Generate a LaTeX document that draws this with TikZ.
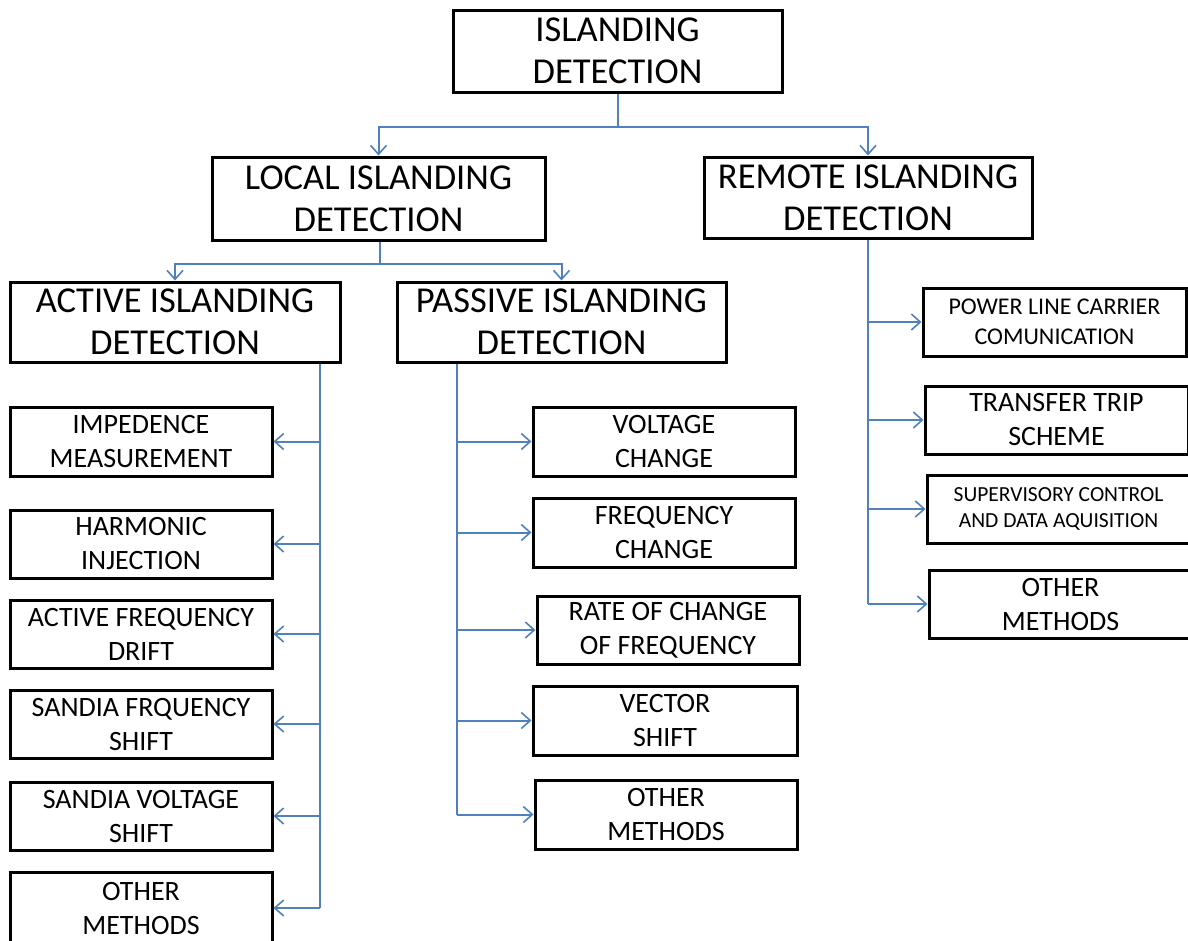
\documentclass[tikz,border=0pt]{standalone}
\usepackage{fontspec}
\setmainfont{Carlito}
\usetikzlibrary{arrows.meta}
\definecolor{linkblue}{RGB}{79,129,189}
\tikzset{
  box/.style={draw=black, line width=3pt, fill=white, align=center, inner sep=0pt},
  bigtxt/.style={font=\fontsize{36.5}{42}\selectfont},
  midtxt/.style={font=\fontsize{28}{34}\selectfont},
  smalltxt/.style={font=\fontsize{24}{30}\selectfont},
  tinytxt/.style={font=\fontsize{21.5}{26}\selectfont},
  link/.style={draw=linkblue, line width=2pt},
  arr/.style={link, -{Straight Barb[length=9pt, width=16pt, line width=1.6pt]}},
}
\begin{document}
\begin{tikzpicture}[x=1pt, y=-1pt]
\useasboundingbox (0,0) rectangle (1188,940);
\clip (0,0) rectangle (1188,940);

% level 0 and 1
\node[box, bigtxt, minimum width=329pt, minimum height=82pt] (top) at (617.5,51) {ISLANDING\\DETECTION};
\node[box, bigtxt, minimum width=333pt, minimum height=83pt] (local) at (378.5,198.5) {LOCAL ISLANDING\\DETECTION};
\node[box, bigtxt, minimum width=328pt, minimum height=81pt] (remote) at (868,197.5) {REMOTE ISLANDING\\DETECTION};
\node[box, bigtxt, minimum width=330pt, minimum height=80pt] (active) at (175,322) {ACTIVE ISLANDING\\DETECTION};
\node[box, bigtxt, minimum width=329pt, minimum height=80pt] (passive) at (561.5,322) {PASSIVE ISLANDING\\DETECTION};

% active methods
\node[box, midtxt, minimum width=262pt, minimum height=69pt] (a1) at (141,441.5) {IMPEDENCE\\MEASUREMENT};
\node[box, midtxt, minimum width=262pt, minimum height=68pt] (a2) at (141,544) {HARMONIC\\INJECTION};
\node[box, midtxt, minimum width=262pt, minimum height=68pt] (a3) at (141,634) {ACTIVE FREQUENCY\\DRIFT};
\node[box, midtxt, minimum width=262pt, minimum height=68pt] (a4) at (141,724) {SANDIA FRQUENCY\\SHIFT};
\node[box, midtxt, minimum width=262pt, minimum height=68pt] (a5) at (141,816) {SANDIA VOLTAGE\\SHIFT};
\node[box, midtxt, minimum width=262pt, minimum height=72pt] (a6) at (141,908) {OTHER\\METHODS};

% passive methods
\node[box, midtxt, minimum width=262pt, minimum height=69pt] (p1) at (664,441.5) {VOLTAGE\\CHANGE};
\node[box, midtxt, minimum width=262pt, minimum height=69pt] (p2) at (664,532.5) {FREQUENCY\\CHANGE};
\node[box, midtxt, minimum width=262pt, minimum height=68pt] (p3) at (668,630) {RATE OF CHANGE\\OF FREQUENCY};
\node[box, midtxt, minimum width=264pt, minimum height=69pt] (p4) at (665,720.5) {VECTOR\\SHIFT};
\node[box, midtxt, minimum width=262pt, minimum height=69pt] (p5) at (666,814.5) {OTHER\\METHODS};

% remote methods
\node[box, smalltxt, minimum width=263pt, minimum height=68pt] (r1) at (1054.5,322) {POWER LINE CARRIER\\COMUNICATION};
\node[box, midtxt, minimum width=263pt, minimum height=68pt] (r2) at (1056.5,420) {TRANSFER TRIP\\SCHEME};
\node[box, tinytxt, minimum width=263pt, minimum height=68pt] (r3) at (1058.5,509) {SUPERVISORY CONTROL\\AND DATA AQUISITION};
\node[box, midtxt, minimum width=263pt, minimum height=68pt] (r4) at (1060.5,604) {OTHER\\METHODS};

% top split
\draw[link] (top.south) -- ++(0,33) coordinate (j0);
\draw[arr] (j0) -| (local.north);
\draw[arr] (j0) -| (remote.north);

% local split
\draw[link] ([xshift=1.5pt]local.south) -- ++(0,22) coordinate (j1);
\draw[arr] (j1) -| (active.north);
\draw[arr] (j1) -| (passive.north);

% active bus
\coordinate (abus) at ([xshift=-22pt]active.south east);
\draw[link] (abus) -- (abus |- a6.east);
\foreach \n in {a1,a2,a3,a4,a5,a6}
  \draw[arr] (abus |- \n.east) -- (\n.east);

% passive bus
\coordinate (pbus) at ([xshift=61pt]passive.south west);
\draw[link] (pbus) -- (pbus |- p5.west);
\foreach \n in {p1,p2,p3,p4,p5}
  \draw[arr] (pbus |- \n.west) -- (\n.west);

% remote bus
\coordinate (rbus) at (remote.south);
\draw[link] (rbus) -- (rbus |- r4.west);
\foreach \n in {r1,r2,r3,r4}
  \draw[arr] (rbus |- \n.west) -- (\n.west);
\end{tikzpicture}
\end{document}
